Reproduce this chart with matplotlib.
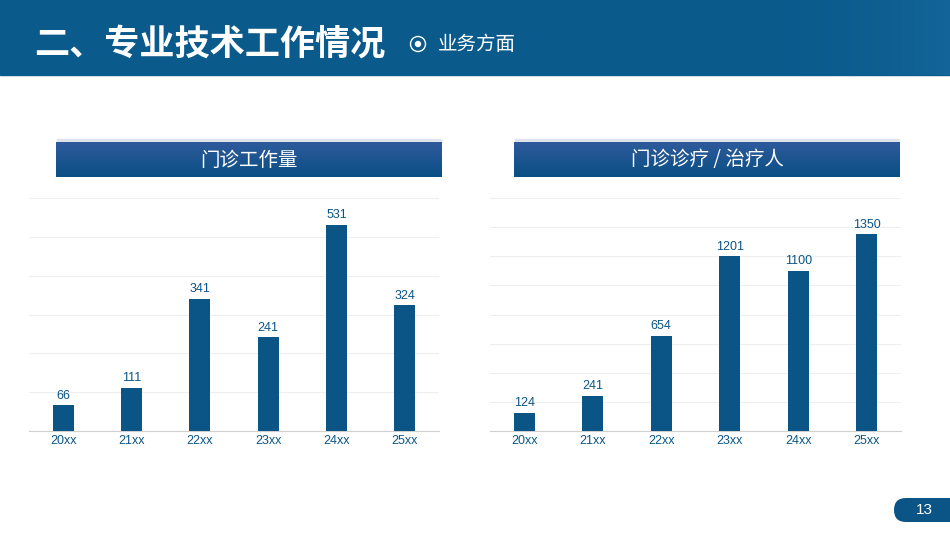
import matplotlib.pyplot as plt
from matplotlib.patches import Rectangle, FancyBboxPatch, Circle
from matplotlib.colors import LinearSegmentedColormap
import numpy as np

plt.rcParams['font.family'] = ['Liberation Sans', 'Noto Sans CJK SC', 'DejaVu Sans']

# data
years = ["20xx", "21xx", "22xx", "23xx", "24xx", "25xx"]
visits = [66, 111, 341, 241, 531, 324]
treated = [124, 241, 654, 1201, 1100, 1350]

page_title = "二、专业技术工作情况"
section = "业务方面"
left_title = "门诊工作量"
right_title = "门诊诊疗 / 治疗人"
page_no = "13"

W, H = 950, 535
BLUE = "#0a5585"
HEADER = "#0b5a8c"

fig = plt.figure(figsize=(W / 100, H / 100), dpi=100)
fig.patch.set_facecolor("white")


def px_axes(x0, y0, x1, y1):
    # pixel box (top-left origin) -> figure axes
    return fig.add_axes([x0 / W, 1 - y1 / H, (x1 - x0) / W, (y1 - y0) / H])


# background layer
bg = px_axes(0, 0, W, H)
bg.axis("off")

bg.add_patch(Rectangle((0, 0), W, 75, color=HEADER, zorder=1))
# faint lighter glow on the right of the header
grad = np.linspace(0, 1, 256).reshape(1, -1) ** 2
glow = LinearSegmentedColormap.from_list(
    "glow", [(0.043, 0.353, 0.549, 0.0), (0.12, 0.45, 0.66, 0.45)])
bg.imshow(grad, extent=(600, W, 75, 0), cmap=glow, aspect="auto", zorder=2)
bg.text(34, 44, page_title, color="white", fontsize=25.3, fontweight="bold",
        va="center", ha="left", family=['Noto Sans CJK SC'], zorder=3)
bg.add_patch(Circle((418, 44), 7.5, facecolor="none", edgecolor="white", lw=1.0, zorder=3))
bg.add_patch(Circle((418, 44), 3.2, facecolor="white", edgecolor="none", zorder=3))
bg.text(438, 44, section, color="white", fontsize=14, va="center", ha="left",
        family=['Noto Sans CJK SC'], zorder=3)

# subtitle boxes with vertical gradient (lighter on top)
box_cmap = LinearSegmentedColormap.from_list("box", ["#2e5a9b", "#0a4f85"])
vgrad = np.linspace(0, 1, 64).reshape(-1, 1)
for (x0, x1), title in [((56, 442), left_title), ((514, 900), right_title)]:
    bg.add_patch(Rectangle((x0 + 1, 139), x1 - x0 - 2, 4, color="#dfe4ec", zorder=1))
    bg.imshow(vgrad, extent=(x0, x1, 177, 142), origin="upper", cmap=box_cmap,
              aspect="auto", zorder=2)
    bg.text((x0 + x1) / 2, 160, title, color="white", fontsize=14, ha="center", va="center",
            family=['Noto Sans CJK SC'], zorder=3)

# page badge
bg.add_patch(FancyBboxPatch((894, 498), 70, 24, boxstyle="round,pad=0,rounding_size=12",
                            facecolor=BLUE, edgecolor="none", zorder=2))
bg.text(924, 510.5, page_no, color="white", fontsize=11, ha="center", va="center", zorder=3)
bg.set_xlim(0, W)
bg.set_ylim(H, 0)


def bar_panel(box, values, ymax, step):
    ax = px_axes(*box)
    x = np.arange(len(values))
    ax.bar(x, values, width=0.31, color=BLUE, zorder=3)
    ax.set_xlim(-0.5, len(values) - 0.5)
    ax.set_ylim(0, ymax)
    ax.set_yticks(np.arange(0, ymax + 1, step))
    ax.yaxis.grid(True, color="#eeeeee", lw=0.8, zorder=0)
    ax.tick_params(axis="y", left=False, labelleft=False)
    ax.set_xticks(x)
    ax.set_xticklabels(years, color=BLUE, fontsize=9)
    ax.tick_params(axis="x", length=0, pad=3)
    for s in ["top", "right", "left"]:
        ax.spines[s].set_visible(False)
    ax.spines["bottom"].set_color("#d0d0d0")
    for xi, v in zip(x, values):
        ax.annotate(str(v), (xi, v), xytext=(0, 2.5), textcoords="offset points",
                    ha="center", va="bottom", color=BLUE, fontsize=9)
    ax.set_facecolor("none")
    return ax


bar_panel((29, 198, 439, 431), visits, 600, 100)
bar_panel((490, 198, 901, 431), treated, 1600, 200)

fig.savefig("out.png", dpi=100)
